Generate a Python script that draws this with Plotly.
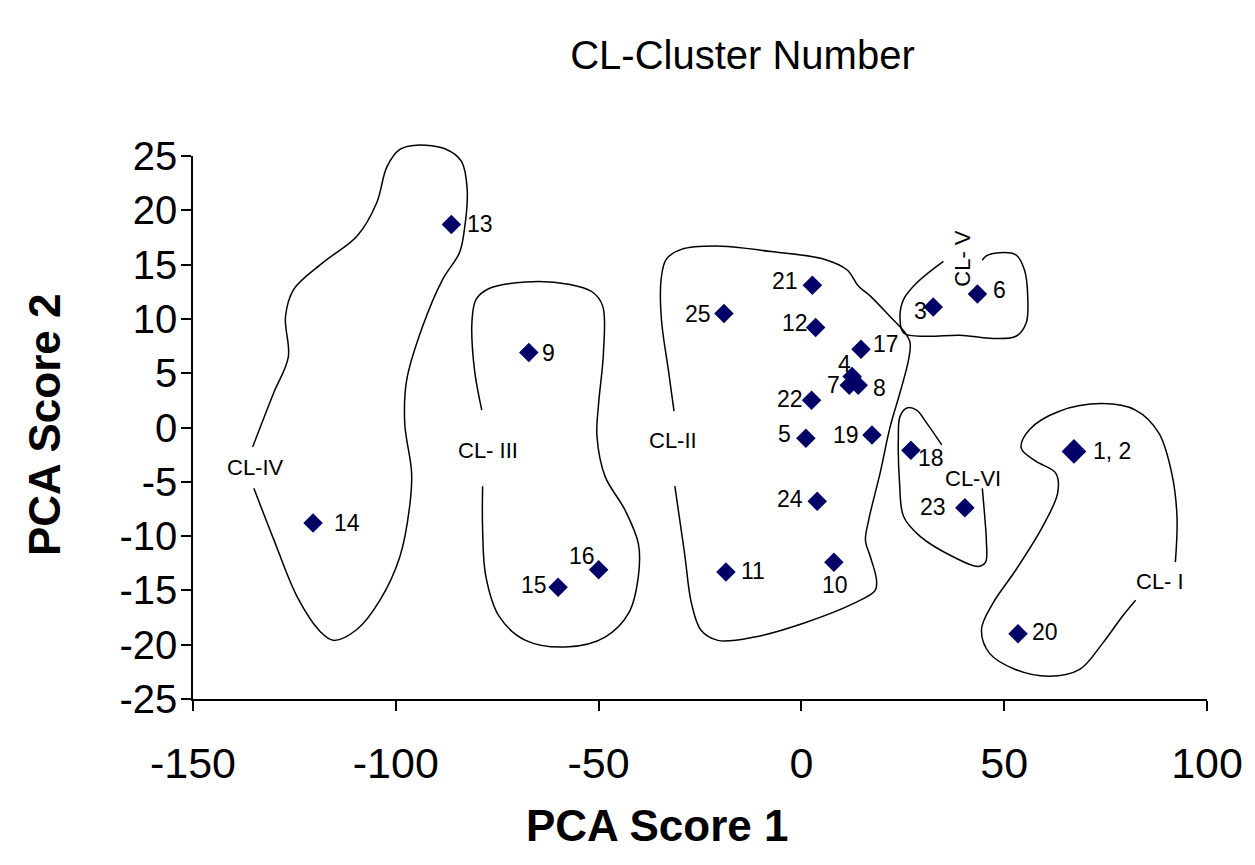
import plotly.graph_objects as go

# ---------------- data ----------------
sample_ids = ["13", "9", "14", "15", "16", "25", "11", "21", "12", "22", "5", "24",
              "10", "17", "4", "7", "8", "19", "3", "6", "18", "23", "1, 2", "20"]
pca_score1 = [-86.3, -67.2, -120.4, -60.0, -50.0, -19.1, -18.6, 2.7, 3.5, 2.5, 1.1, 3.9,
              8.0, 14.7, 12.5, 11.8, 14.0, 17.4, 32.5, 43.4, 27.0, 40.3, 67.2, 53.4]
pca_score2 = [18.7, 6.9, -8.8, -14.7, -13.1, 10.5, -13.3, 13.1, 9.2, 2.5, -1.0, -6.8,
              -12.4, 7.2, 4.7, 3.9, 3.9, -0.7, 11.1, 12.3, -2.1, -7.4, -2.2, -19.0]

x_ticks = [-150, -100, -50, 0, 50, 100]
y_ticks = [-25, -20, -15, -10, -5, 0, 5, 10, 15, 20, 25]
x_ticktext = ["-150", "-100", "-50", "0", "50", "100"]
y_ticktext = ["-25", "-20", "-15", "-10", "-5", "0", "5", "10", "15", "20", "25"]

# hand-drawn cluster boundaries (PCA score units)
cl_iv_x = [-135.3, -130.1, -126.5, -127.2, -125.2, -117.9, -109.6, -104.7, -102.2, -99.0, -94.9,
           -87.5, -83.8, -82.4, -83.1, -84.3, -88.5, -93.4, -97.3, -97.8, -96.1, -96.6, -99.0,
           -103.9, -109.6, -115.4, -118.6, -124.3, -130.1, -135.0]
cl_iv_y = [-1.8, 3.2, 6.5, 10.2, 12.7, 15.2, 17.6, 20.7, 24.0, 25.6, 26.0,
           25.6, 24.5, 21.9, 18.2, 16.1, 13.6, 9.3, 4.4, 0.4, -4.2, -7.3, -11.9,
           -15.9, -18.6, -19.6, -18.8, -15.6, -10.3, -5.6]

cl_iii_x = [-78.8, -80.6, -81.2, -80.2, -77.0, -68.0, -57.4, -51.6, -49.0, -48.8, -50.0, -50.4,
            -48.4, -43.5, -40.2, -40.2, -42.6, -48.4, -57.4, -68.0, -74.5, -77.8, -78.6, -78.6]
cl_iii_y = [1.6, 5.3, 9.9, 11.8, 12.8, 13.4, 13.2, 12.5, 11.2, 6.9, 2.2, -0.8,
            -4.5, -7.6, -10.7, -13.7, -17.1, -19.3, -20.2, -19.6, -17.4, -13.7, -9.4, -5.4]

cl_ii_x = [-31.4, -32.8, -34.5, -34.6, -33.3, -29.6, -19.8, -7.5, 5.6, 11.3, 14.1, 17.0, 21.9,
           25.6, 26.8, 26.4, 24.3, 21.9, 19.4, 16.6, 15.8, 17.0, 18.5, 18.2, 12.9, 0.7,
           -11.6, -20.6, -24.7, -27.1, -28.8, -31.2]
cl_ii_y = [1.5, 5.3, 9.9, 13.6, 15.5, 16.4, 16.7, 16.2, 15.5, 14.5, 13.0, 12.1, 10.2,
           8.7, 7.8, 6.2, 3.2, 0.1, -4.2, -8.5, -10.4, -11.9, -14.0, -15.0, -16.2, -18.0,
           -19.3, -19.6, -18.7, -16.2, -11.6, -5.4]

cl_v_x = [35.0, 28.4, 25.2, 24.3, 25.2, 30.9, 39.0, 47.2, 52.9, 55.4, 55.8, 55.0, 52.9, 48.8, 45.6, 44.6]
cl_v_y = [15.3, 13.3, 11.8, 10.2, 8.7, 8.4, 8.5, 8.2, 8.4, 9.6, 12.1, 14.5, 15.9, 16.1, 15.8, 15.4]

cl_vi_x = [34.6, 30.9, 28.4, 26.0, 24.3, 23.9, 24.2, 25.2, 29.2, 37.4, 43.6, 45.4, 45.6, 45.2, 44.6]
cl_vi_y = [-1.6, 0.4, 1.6, 1.8, 1.0, -1.1, -5.1, -8.2, -10.0, -11.9, -12.8, -12.4, -10.4, -8.2, -5.6]

cl_i_x = [92.2, 92.6, 91.3, 88.1, 82.4, 74.2, 63.6, 56.2, 54.2, 57.8, 62.7, 63.2, 59.5, 52.9,
          47.2, 44.4, 46.4, 52.9, 61.1, 68.5, 74.2, 79.1, 82.4]
cl_i_y = [-12.4, -8.2, -4.2, -0.5, 1.6, 2.2, 1.5, -0.2, -1.9, -3.1, -4.2, -6.0, -9.1, -13.1,
          -16.2, -18.6, -20.8, -22.3, -22.9, -22.3, -19.9, -17.4, -15.9]

cluster_names = ["CL-IV", "CL- III", "CL-II", "CL- V", "CL-VI", "CL- I"]
cluster_label_x = [-134.6, -77.3, -31.6, 39.5, 42.4, 88.5]
cluster_label_y = [-3.7, -2.1, -1.2, 15.6, -4.7, -14.2]

# ---------------- styles ----------------
label_offsets = {  # pixel offset of label centre from marker centre (dx right, dy down)
    "13": (29, 0), "9": (20, 0), "14": (34, 0), "15": (-24, -2), "16": (-17, -14),
    "25": (-26, 1), "11": (27, -1), "21": (-27, -4), "12": (-21, -5), "22": (-22, -1),
    "5": (-21, -4), "24": (-27, -2), "10": (1, 23), "17": (25, -5), "4": (-8, -12),
    "7": (-16, 0), "8": (21, 3), "19": (-26, 0), "3": (-13, 4), "6": (22, -4),
    "18": (20, 8), "23": (-32, -1), "1, 2": (38, 0), "20": (27, -2),
}
marker_sizes = [19 if s == "1, 2" else 15 for s in sample_ids]
cluster_label_angle = [0, 0, 0, -90, 0, 0]

FONT = "Liberation Sans, Arial, sans-serif"
MARKER_COLOR = "#000066"

X_RANGE = [-150, 100]
Y_RANGE = [-25, 25]
MAIN_TOP = 543.0 / 559.0  # main axes domain top; the area above lets the outlines overflow
Y2_RANGE = [Y_RANGE[0], Y_RANGE[0] + (Y_RANGE[1] - Y_RANGE[0]) / MAIN_TOP]

fig = go.Figure()

outlines = [(cl_iv_x, cl_iv_y), (cl_iii_x, cl_iii_y), (cl_ii_x, cl_ii_y),
            (cl_v_x, cl_v_y), (cl_vi_x, cl_vi_y), (cl_i_x, cl_i_y)]
for ox, oy in outlines:
    fig.add_trace(go.Scatter(x=ox, y=oy, mode="lines", xaxis="x2", yaxis="y2",
                             line=dict(color="black", width=1.5, shape="spline", smoothing=1.0),
                             hoverinfo="skip", showlegend=False))

fig.add_trace(go.Scatter(x=pca_score1, y=pca_score2, mode="markers",
                         marker=dict(symbol="diamond", size=marker_sizes, color=MARKER_COLOR,
                                     opacity=1, line=dict(width=0)),
                         text=sample_ids, showlegend=False))

annotations = []
for sid, px, py in zip(sample_ids, pca_score1, pca_score2):
    dx, dy = label_offsets[sid]
    annotations.append(dict(x=px, y=py, xref="x", yref="y", text=sid, showarrow=False,
                            xanchor="center", yanchor="middle", xshift=dx, yshift=-dy,
                            font=dict(family=FONT, size=23, color="black")))

for name, cx, cy, ang in zip(cluster_names, cluster_label_x, cluster_label_y, cluster_label_angle):
    annotations.append(dict(x=cx, y=cy, xref="x", yref="y", text=name, showarrow=False,
                            textangle=ang, xanchor="center", yanchor="middle",
                            font=dict(family=FONT, size=22, color="black")))

annotations.append(dict(text="<b>PCA Score 1</b>", xref="paper", yref="paper", x=0.458, y=-0.227,
                        xanchor="center", yanchor="middle", showarrow=False,
                        font=dict(family=FONT, size=44, color="black")))
annotations.append(dict(text="<b>PCA Score 2</b>", xref="paper", yref="paper", x=-0.147, y=0.490,
                        xanchor="center", yanchor="middle", showarrow=False, textangle=-90,
                        font=dict(family=FONT, size=44, color="black")))

fig.update_layout(
    width=1247, height=857,
    margin=dict(l=185, r=43, t=132, b=166),
    paper_bgcolor="white", plot_bgcolor="rgba(0,0,0,0)",
    title=dict(text="CL-Cluster Number", x=0.589, xref="container", xanchor="center",
               y=0.945, yref="container", yanchor="middle",
               font=dict(family=FONT, size=40, color="black")),
    annotations=annotations,
    showlegend=False,
    xaxis=dict(range=X_RANGE, domain=[0, 1], anchor="y", tickvals=x_ticks, ticktext=x_ticktext,
               ticks="outside", ticklen=10, tickwidth=1.5, tickcolor="black",
               showline=True, linecolor="black", linewidth=1.5, showgrid=False, zeroline=False,
               ticklabelstandoff=16, tickfont=dict(family=FONT, size=43, color="black")),
    yaxis=dict(range=Y_RANGE, domain=[0, MAIN_TOP], anchor="x", tickvals=y_ticks, ticktext=y_ticktext,
               ticks="outside", ticklen=10, tickwidth=1.5, tickcolor="black",
               showline=True, linecolor="black", linewidth=1.5, showgrid=False, zeroline=False,
               ticklabelstandoff=-4, tickfont=dict(family=FONT, size=40, color="black")),
    xaxis2=dict(range=X_RANGE, domain=[0, 1], anchor="y2", visible=False, fixedrange=True),
    yaxis2=dict(range=Y2_RANGE, domain=[0, 1], anchor="x2", visible=False, fixedrange=True),
)

fig.write_html("out.html")
